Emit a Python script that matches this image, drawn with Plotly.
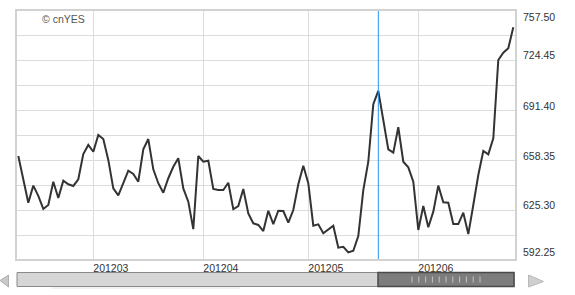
import plotly.graph_objects as go

# ---- data ----
prices = [661.0, 645.5, 630.1, 641.4, 634.6, 626.0, 628.6, 644.0, 633.2, 644.7,
          642.3, 641.2, 645.6, 662.3, 668.3, 663.8, 674.9, 672.2, 658.4, 639.6,
          635.0, 643.0, 651.3, 649.1, 644.0, 665.4, 672.2, 652.2, 643.0, 636.7,
          646.3, 653.9, 659.5, 639.6, 630.8, 612.7, 661.0, 657.2, 657.9, 639.2,
          638.5, 638.5, 643.3, 625.8, 627.9, 639.2, 623.1, 616.5, 615.4, 611.4,
          624.8, 616.0, 624.8, 624.6, 616.9, 625.3, 642.3, 654.6, 643.0, 614.9,
          615.8, 609.9, 612.5, 614.9, 600.4, 601.0, 597.3, 598.4, 608.1, 638.5,
          657.2, 695.2, 704.0, 683.7, 665.4, 663.2, 680.0, 657.2, 653.5, 644.0,
          612.1, 627.9, 613.9, 624.2, 641.4, 630.4, 630.1, 616.0, 616.0, 623.5,
          609.4, 628.6, 648.4, 664.3, 662.1, 672.7, 724.45, 729.3, 732.2, 746.1]
month_start_idx = [15, 37, 58, 80]
month_labels = ["201203", "201204", "201205", "201206"]
y_tick_values = [592.25, 625.30, 658.35, 691.40, 724.45, 757.50]
y_tick_labels = ["592.25", "625.30", "658.35", "691.40", "724.45", "757.50"]
cursor_idx = 72

x_idx = list(range(len(prices)))

# ---- layout geometry (pixels) ----
W, H = 575, 295
L, R, T, B = 16, 516, 10, 260
def px(xp):
    return (xp - L) / (R - L)
def py(yp):
    return (B - yp) / (B - T)

FONT = "Arial, Liberation Sans, sans-serif"

fig = go.Figure()
fig.add_trace(go.Scatter(x=x_idx, y=prices, mode="lines",
                         line=dict(color="#333333", width=2),
                         hoverinfo="skip", showlegend=False))

shapes = []
# cursor line
shapes.append(dict(type="line", xref="x", yref="paper", x0=cursor_idx, x1=cursor_idx,
                   y0=0, y1=1, line=dict(color="#2196f3", width=1)))
# plot frame
shapes.append(dict(type="rect", xref="paper", yref="paper", x0=0, x1=1, y0=0, y1=1,
                   line=dict(color="#d2d2d2", width=2)))
# scrollbar track
shapes.append(dict(type="rect", xref="paper", yref="paper", x0=px(17), x1=px(514),
                   y0=py(286.5), y1=py(272.5), fillcolor="#d6d6d6",
                   line=dict(color="#8a8a8a", width=1)))
# thumb
shapes.append(dict(type="rect", xref="paper", yref="paper", x0=px(378), x1=px(514),
                   y0=py(286.5), y1=py(272.5), fillcolor="#7d7d7d",
                   line=dict(color="#4a4a4a", width=1.5)))
# grip lines
for k in range(11):
    gx = 412 + k * 6.8
    shapes.append(dict(type="line", xref="paper", yref="paper", x0=px(gx), x1=px(gx),
                       y0=py(282.5), y1=py(276.5), line=dict(color="#c4c4c4", width=1)))
# shadow under scrollbar
shapes.append(dict(type="line", xref="paper", yref="paper", x0=px(52), x1=px(240),
                   y0=py(288), y1=py(288), line=dict(color="#e4e4e4", width=1)))
# left arrow
shapes.append(dict(type="path", xref="paper", yref="paper",
                   path=f"M {px(0)},{py(280.5)} L {px(8.5)},{py(275)} L {px(8.5)},{py(287)} Z",
                   fillcolor="#c8c8c8", line=dict(color="#b0b0b0", width=1)))
# right arrow
shapes.append(dict(type="path", xref="paper", yref="paper",
                   path=f"M {px(528.5)},{py(275)} L {px(543.5)},{py(281.5)} L {px(528.5)},{py(287)} Z",
                   fillcolor="#cfcfcf", line=dict(color="#b8b8b8", width=1)))

annotations = []
shifts = [8, 5, 4, 4, 5, -7]
for v, lab, s in zip(y_tick_values, y_tick_labels, shifts):
    annotations.append(dict(x=1, xref="paper", y=v, yref="y", text=lab, showarrow=False,
                            xanchor="left", yanchor="middle", xshift=5, yshift=s,
                            font=dict(family=FONT, size=10.5, color="#333333")))
annotations.append(dict(x=px(40), xref="paper", y=py(19), yref="paper", text="© cnYES",
                        showarrow=False, xanchor="left", yanchor="middle",
                        font=dict(family=FONT, size=10.5, color="#555555")))

fig.update_layout(
    width=W, height=H, autosize=False,
    margin=dict(l=L, r=W - R, t=T, b=H - B, pad=0),
    paper_bgcolor="white", plot_bgcolor="white",
    showlegend=False,
    xaxis=dict(range=[(L - 18.3) / 5, (R - 18.3) / 5], tickmode="array",
               tickvals=month_start_idx, ticktext=month_labels,
               ticklabelposition="outside right",
               showgrid=True, gridcolor="#dcdcdc", gridwidth=1, zeroline=False,
               showline=False, ticks="", tickfont=dict(family=FONT, size=10.5, color="#333333"),
               fixedrange=True),
    yaxis=dict(range=[592.25, 757.50], tick0=592.25, dtick=16.525, showticklabels=False,
               showgrid=True, gridcolor="#dcdcdc", gridwidth=1, zeroline=False,
               showline=False, ticks="", fixedrange=True),
    shapes=shapes, annotations=annotations,
)

fig.write_html("out.html", config={"displayModeBar": False})
